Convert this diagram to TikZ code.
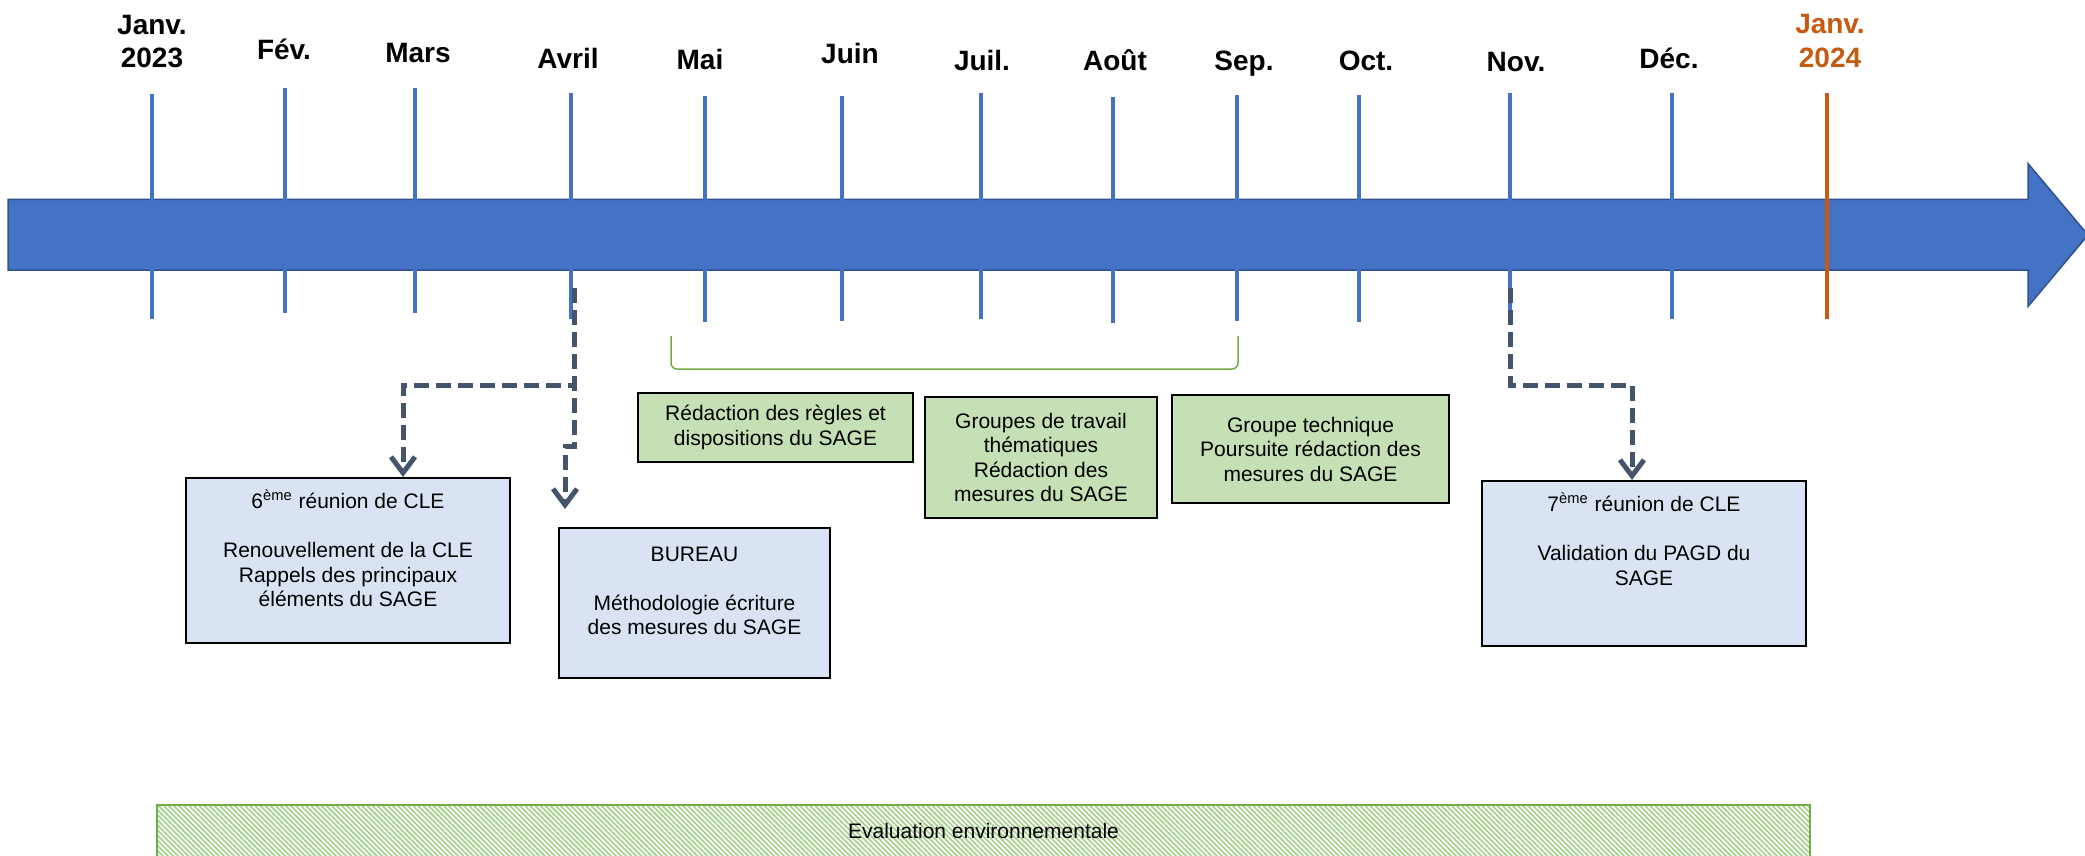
\documentclass[tikz,border=0pt]{standalone}
\usepackage{fontspec}
\setmainfont{Liberation Sans}
\usetikzlibrary{arrows.meta,patterns.meta,calc}
\definecolor{tlblue}{HTML}{4472C4}
\definecolor{tlborder}{HTML}{2F528F}
\definecolor{tlorange}{HTML}{C55A11}
\definecolor{boxblue}{HTML}{DAE3F3}
\definecolor{boxgreen}{HTML}{C5E0B4}
\definecolor{linegreen}{HTML}{70AD47}
\definecolor{hatchgreen}{HTML}{A9D18E}
\definecolor{conncol}{HTML}{44546A}
\begin{document}
\begin{tikzpicture}[x=0.5pt,y=-0.5pt,
  month/.style={font=\fontsize{14}{16.5}\selectfont\bfseries, inner sep=0pt, anchor=base},
  tickline/.style={draw=tlblue, line width=2.25pt},
  bluebox/.style={draw=black, line width=1pt, fill=boxblue, align=center,
     font=\fontsize{10.5}{12.25}\selectfont, inner sep=0pt},
  greenbox/.style={draw=black, line width=1pt, fill=boxgreen, align=center,
     font=\fontsize{10.5}{12.25}\selectfont, inner sep=0pt},
  conn/.style={draw=conncol, line width=2.5pt, dash pattern=on 7.5pt off 3.5pt,
     -{Straight Barb[length=8pt,width=12pt]}},
]
\useasboundingbox (0,0) rectangle (2085,856);
\clip (0,0) rectangle (2085,856);

% main arrow
\draw[fill=tlblue, draw=tlborder, line width=0.75pt]
  (8,199.5) -- (2028,199.5) -- (2028,163.5) -- (2088,235) -- (2028,306.5)
  -- (2028,270) -- (8,270) -- cycle;

% ticks
\draw[tickline] (152,94) -- (152,319);
\draw[tickline] (285,88) -- (285,313);
\draw[tickline] (415,88) -- (415,313);
\draw[tickline] (571,93) -- (571,319);
\draw[tickline] (705,96) -- (705,322);
\draw[tickline] (842,96) -- (842,321);
\draw[tickline] (981,93) -- (981,319);
\draw[tickline] (1113,97) -- (1113,323);
\draw[tickline] (1237,95) -- (1237,321);
\draw[tickline] (1359,95) -- (1359,322);
\draw[tickline] (1510,93) -- (1510,320);
\draw[tickline] (1672,93) -- (1672,319);
\draw[tickline, draw=tlorange] (1827,93) -- (1827,319);

% month labels
\node[month] (janA) at (152,35) {Janv.};
\node[month] (janB) at (152,68) {2023};
\node[month] (fev) at (284,60) {Fév.};
\node[month] (mars) at (418,63) {Mars};
\node[month] (avril) at (568,69) {Avril};
\node[month] (mai) at (700,70) {Mai};
\node[month] (juin) at (850,64) {Juin};
\node[month] (juil) at (982,71) {Juil.};
\node[month] (aout) at (1115,71) {Août};
\node[month] (sep) at (1244,71) {Sep.};
\node[month] (oct) at (1366,71) {Oct.};
\node[month] (nov) at (1516,72) {Nov.};
\node[month] (dec) at (1669,69) {Déc.};
\node[month, text=tlorange] (janC) at (1830,34) {Janv.};
\node[month, text=tlorange] (janD) at (1830,68) {2024};

% bracket
\draw[linegreen, line width=0.75pt, rounded corners=3pt]
  (671,336) -- (671,369) -- (1238,369) -- (1238,336);

% boxes
\node[bluebox, minimum width=162pt, minimum height=82.5pt] (cle6) at (348,560.5)
  {6\textsuperscript{ème} réunion de CLE\\ \mbox{}\\Renouvellement de la CLE\\Rappels des principaux\\éléments du SAGE\\ \mbox{}};
\node[bluebox, minimum width=135.5pt, minimum height=75pt] (bureau) at (694.5,603)
  {BUREAU\\ \mbox{}\\Méthodologie écriture\\des mesures du SAGE\\ \mbox{}};
\node[bluebox, minimum width=162pt, minimum height=82.5pt] (cle7) at (1644,563.5)
  {7\textsuperscript{ème} réunion de CLE\\ \mbox{}\\Validation du PAGD du\\SAGE\\ \mbox{}\\ \mbox{}};
\node[greenbox, minimum width=137.5pt, minimum height=34.5pt] (redac) at (775.5,427.5)
  {Rédaction des règles et\\dispositions du SAGE};
\node[greenbox, minimum width=116pt, minimum height=60.5pt] (gt) at (1041,457.5)
  {Groupes de travail\\thématiques\\Rédaction des\\mesures du SAGE};
\node[greenbox, minimum width=138.5pt, minimum height=54pt] (gtech) at (1310.5,449)
  {Groupe technique\\Poursuite rédaction des\\mesures du SAGE};

% evaluation band
\node[draw=linegreen, line width=1pt, inner sep=0pt,
  pattern={Lines[angle=-45,distance=1.8pt,line width=0.9pt]}, pattern color=hatchgreen,
  minimum width=826.5pt, minimum height=26pt,
  font=\fontsize{10.5}{12.25}\selectfont] (evalenv) at (983.5,831) {Evaluation environnementale};

% connectors
\coordinate (avrilS) at (574,288);
\coordinate (k1) at (403,385);
\coordinate (k2) at (565,446);
\coordinate (k2e) at (565,509);
\coordinate (novS) at (1510,288);
\coordinate (k3) at (1632,385);
\draw[conn] (avrilS) |- (k1) -- (k1 |- cle6.north);
\draw[conn] (avrilS) |- (k2) -- (k2e);
\draw[conn] (novS) |- (k3) -- (k3 |- cle7.north);
\end{tikzpicture}
\end{document}
